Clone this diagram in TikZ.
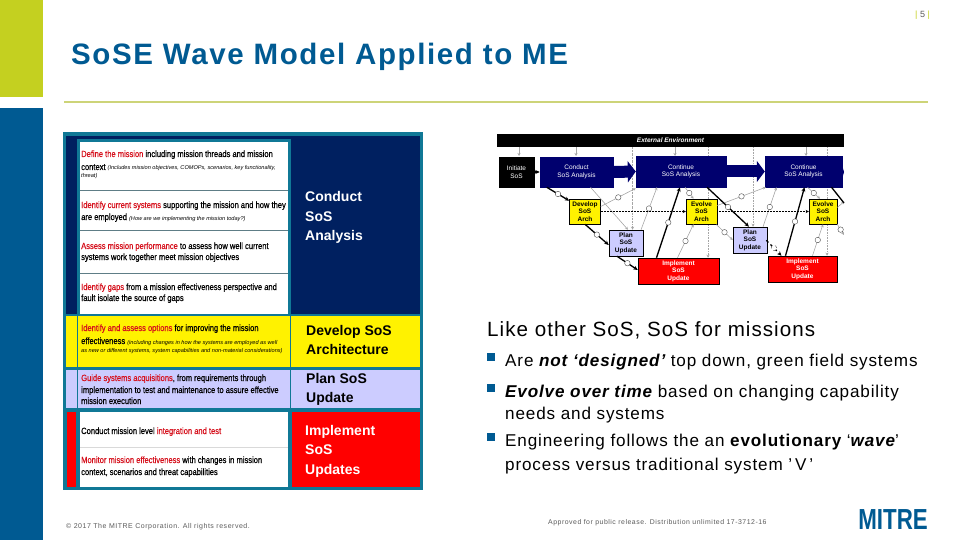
\documentclass[tikz,border=0pt]{standalone}
\usepackage{fontspec}
\setmainfont{Liberation Sans}
\newfontfamily\titlefont[LetterSpace=5.5]{Liberation Sans}
\newfontfamily\cellfont[FakeStretch=0.84,FakeBold=0.6]{Liberation Sans}
\newfontfamily\notefont{Liberation Sans}
\newfontfamily\bodyfont[LetterSpace=5]{Liberation Sans}
\newfontfamily\smallfont[LetterSpace=7.5]{Liberation Sans}
\newfontfamily\logofont[FakeStretch=0.77]{Liberation Sans}
\newcommand{\cellnote}[1]{{\notefont\itshape\fontsize{5.6}{6}\selectfont #1}}
\usetikzlibrary{arrows.meta,backgrounds}
\definecolor{limebar}{RGB}{196,208,32}
\definecolor{rulelime}{RGB}{205,212,120}
\definecolor{mitreblue}{RGB}{0,90,146}
\definecolor{tableteal}{RGB}{16,120,150}
\definecolor{navycell}{RGB}{0,32,96}
\definecolor{planblue}{RGB}{204,204,255}
\definecolor{missred}{RGB}{214,16,28}
\definecolor{waveNavy}{RGB}{0,0,110}
\definecolor{footgray}{RGB}{90,90,90}
\tikzset{
  celltext/.style={anchor=base west,inner sep=0pt,font=\cellfont\fontsize{9}{10}\selectfont},
  phasetext/.style={anchor=west,align=left,inner sep=0pt,font=\bfseries\fontsize{14}{19.5}\selectfont},
  bodytext/.style={anchor=base west,inner sep=0pt,font=\bodyfont\fontsize{17.1}{20}\selectfont},
  bulletbox/.style={fill=mitreblue,inner sep=0pt,minimum size=8pt},
  wavebox/.style={draw=black,line width=0.5pt,inner sep=0pt,align=center,font=\bfseries\fontsize{6.5}{7.5}\selectfont},
  navybox/.style={wavebox,fill=waveNavy,draw=waveNavy,text=white},
  navylabel/.style={text=white,inner sep=0pt,align=center,font=\fontsize{6.5}{7.5}\selectfont},
  yellowbox/.style={wavebox,fill=yellow,minimum width=31pt,minimum height=25pt},
  planbox/.style={wavebox,fill=planblue,minimum width=34pt,minimum height=26pt},
  redbox/.style={wavebox,fill=red,text=white,minimum height=26pt},
  mainarrow/.style={-{Stealth[length=4.5pt,width=4pt]},line width=1.3pt,black},
  sidearrow/.style={-{Stealth[length=3pt,width=3pt]},line width=0.6pt,gray!70},
  ringmark/.style={circle,draw=black!70,fill=white,line width=0.4pt,inner sep=0pt,minimum size=5.5pt,midway},
  fatarrow/.style={-{Triangle[length=8pt,width=21pt]},line width=12pt,waveNavy},
}
\begin{document}
\begin{tikzpicture}[x=1pt,y=-1pt]
\useasboundingbox (0,0) rectangle (960,540);
\fill[limebar] (0,0) rectangle (43,97);
\fill[mitreblue] (0,108) rectangle (43,540);
\draw[rulelime,line width=1.5pt] (64,102) -- (928,102);
\node[anchor=base west,inner sep=0pt,text=mitreblue,font=\titlefont\bfseries\fontsize{29.5}{31}\selectfont] (title) at (71,65) {SoSE Wave Model Applied to ME};
\node[inner sep=0pt,text=footgray,font=\fontsize{9}{10}\selectfont] (pagenum) at (922.5,15) {{\color{limebar}|} 5 {\color{limebar}|}};

% table
\fill[tableteal] (63,132) rectangle (423,490);
\fill[navycell] (66,136) rectangle (420,314);
\fill[tableteal] (77,139) rectangle (291,314);
\fill[white] (80,142) rectangle (288,314);
\fill[yellow] (66,316) rectangle (420,367);
\fill[planblue] (66,370) rectangle (420,408);
\fill[red] (67,412) rectangle (76,487);
\fill[white] (80,412) rectangle (288,487);
\fill[red] (292,412) rectangle (420,487);
\draw[tableteal,line width=0.6pt] (77,316) -- (77,408);
\draw[tableteal,line width=0.6pt] (290,316) -- (290,408);
\foreach \y in {190,230,273} {
  \draw[gray!70!tableteal,line width=0.6pt] (80,\y) -- (288,\y);
}
\draw[gray!30,line width=0.5pt] (80,447) -- (288,447);

\node[celltext] (defineA) at (81,157) {\textcolor{missred}{Define the mission} including mission threads and mission};
\node[celltext] (defineB) at (81,170) {context \cellnote{(Includes mission objectives, COMOPs, scenarios, key functionality,}};
\node[celltext] (defineC) at (81,178) {\cellnote{threat)}};
\node[celltext] (currentA) at (81,208) {\textcolor{missred}{Identify current systems} supporting the mission and how they};
\node[celltext] (currentB) at (81,220) {are employed \cellnote{(How are we implementing the mission today?)}};
\node[celltext] (assessA) at (81,249) {\textcolor{missred}{Assess mission performance} to assess how well current};
\node[celltext] (assessB) at (81,260) {systems work together meet mission objectives};
\node[celltext] (gapsA) at (81,290) {\textcolor{missred}{Identify gaps} from a mission effectiveness perspective and};
\node[celltext] (gapsB) at (81,301) {fault isolate the source of gaps};
\node[celltext] (optionsA) at (81,331) {\textcolor{missred}{Identify and assess options} for improving the mission};
\node[celltext] (optionsB) at (81,344) {effectiveness \cellnote{(including changes in how the systems are employed as well}};
\node[celltext] (optionsC) at (81,352) {\cellnote{as new or different systems, system capabilities and non-material considerations)}};
\node[celltext] (guideA) at (81,381) {\textcolor{missred}{Guide systems acquisitions}, from requirements through};
\node[celltext] (guideB) at (81,393) {implementation to test and maintenance to assure effective};
\node[celltext] (guideC) at (81,404) {mission execution};
\node[celltext] (integrate) at (81,434) {Conduct mission level \textcolor{missred}{integration and test}};
\node[celltext] (monitorA) at (81,463) {\textcolor{missred}{Monitor mission effectiveness} with changes in mission};
\node[celltext] (monitorB) at (81,475) {context, scenarios and threat capabilities};

\node[phasetext,text=white] (analysis) at (305,217.5) {Conduct\\SoS\\Analysis};
\node[phasetext] (develop) at (306,340) {Develop SoS\\Architecture};
\node[phasetext] (plan) at (306,389.5) {Plan SoS\\Update};
\node[phasetext,text=white] (implement) at (305,451) {Implement\\SoS\\Updates};

% wave
\node[fill=black,text=white,inner sep=0pt,minimum width=347pt,minimum height=13pt,font=\bfseries\itshape\fontsize{6.5}{7}\selectfont] (external) at (670.5,140.5) {External Environment};
\node[wavebox,fill=black,text=white,minimum width=35pt,minimum height=30pt,font=\fontsize{6.5}{7.5}\selectfont] (initiate) at (516.5,172) {Initiate\\SoS};
\node[navybox,minimum width=73pt,minimum height=30pt,font=\fontsize{6.5}{7.5}\selectfont] (conduct) at (576.5,172) {Conduct\\SoS Analysis};
\node[navybox,minimum width=90pt,minimum height=31pt] (continueA) at (681,171.5) {};
\node[navybox,minimum width=77pt,minimum height=31pt] (continueB) at (803.5,171.5) {};
\node[yellowbox] (archA) at (585,211.5) {Develop\\SoS\\Arch};
\node[yellowbox] (archB) at (701.5,211.5) {Evolve\\SoS\\Arch};
\node[yellowbox,minimum width=28pt] (archC) at (823,211.5) {Evolve\\SoS\\Arch};
\node[planbox] (planA) at (626,243) {Plan\\SoS\\Update};
\node[planbox] (planB) at (750,240) {Plan\\SoS\\Update};
\node[redbox,minimum width=81pt] (implA) at (678.5,271) {Implement\\SoS\\Update};
\node[redbox,minimum width=69pt] (implB) at (802.5,269) {Implement\\SoS\\Update};
\coordinate (rightA) at (844,203);
\coordinate (rightB) at (844,235);
\coordinate (rightC) at (844,172);

\draw[fatarrow] (conduct.east) -- (continueA.west);
\draw[fatarrow] (continueA.center) -- (continueB.west);
\draw[fatarrow,-{Triangle[length=3pt,width=21pt]}] ([xshift=-22pt]rightC) -- (rightC);
\node[navylabel] (continueTextA) at (continueA.center) {Continue\\SoS Analysis};
\node[navylabel] (continueTextB) at (continueB.center) {Continue\\SoS Analysis};

\begin{scope}[on background layer]
\foreach \x in {519,576,675,806} {
  \draw[sidearrow] (\x,147) -- (\x,156);
}
\draw[gray!70,densely dotted,line width=0.4pt] (632,147) -- (632,208);
\draw[sidearrow,densely dotted] (632.5,208) -- (planA.north -| 632.5,0);
\draw[sidearrow,densely dotted] (708,147) -- (implA.north -| 708,0);
\draw[sidearrow,densely dotted] (753,147) -- (planB.north -| 753,0);
\draw[sidearrow,densely dotted] (827,147) -- (implB.north -| 827,0);
\end{scope}

\draw[sidearrow] (archA.east) ++(0,-5) -- ([yshift=-1pt]continueA.south west) node[ringmark] {};
\draw[sidearrow] ([xshift=15pt]planA.north) -- ([xshift=-24pt]continueA.south) node[ringmark] {};
\draw[sidearrow] ([xshift=14pt]conduct.south) -- ([xshift=2pt]planA.north);
\draw[sidearrow] ([xshift=-1pt]implA.north) -- ([xshift=-8pt]archB.south) node[ringmark] {};
\draw[sidearrow] ([xshift=4pt]continueA.south) -- ([xshift=-8pt]archB.north) node[ringmark] {};
\draw[sidearrow] ([yshift=6pt]archB.east) -- ([xshift=1pt]continueB.south west) node[ringmark] {};
\draw[sidearrow] ([xshift=13pt]planB.north) -- ([xshift=-27pt]continueB.south) node[ringmark] {};
\draw[sidearrow] ([yshift=-7pt]archB.east) ++(-1,6) -- (planB.west) node[ringmark] {};
\draw[sidearrow] ([xshift=10pt]implB.north) -- (archC.south) node[ringmark] {};
\draw[sidearrow] ([xshift=4pt]continueB.south) -- ([xshift=-3pt]archC.north) node[ringmark] {};
\draw[sidearrow] (archC.south east) -- (rightB) node[ringmark] {};
\draw[sidearrow] ([yshift=4pt]archC.east) -- ++(7,-6);

\draw[-{Stealth[length=3pt,width=3pt]},densely dotted,line width=0.5pt] (archA.east) -- (archB.west);
\draw[-{Stealth[length=3pt,width=3pt]},densely dotted,line width=0.5pt] (archB.east) -- (archC.west);

\draw[mainarrow] (initiate.east) -- (conduct.west);
\draw[mainarrow] (conduct.south west) ++(7,0) -- ([yshift=-2pt]archA.north west) node[ringmark] {};
\draw[mainarrow] (archA.south) -- ([yshift=-2pt]planA.west) node[ringmark] {};
\draw[mainarrow] ([xshift=-9pt]planA.south) -- ([yshift=1pt]implA.west) node[ringmark] {};
\draw[mainarrow] ([xshift=-22pt]implA.north) -- ([xshift=-1pt]continueA.south) node[ringmark] {};
\draw[mainarrow] ([xshift=26pt]continueA.south) -- ([xshift=-1pt]planB.north) node[ringmark] {};
\draw[mainarrow,dashed] (planB.south east) ++(-1,-13) -- ([xshift=-21pt]implB.north) node[ringmark] {};
\draw[mainarrow] ([xshift=-17pt]implB.north) -- ([xshift=1pt]continueB.south) node[ringmark] {};
\draw[mainarrow,-] ([xshift=28pt]continueB.south) -- (rightA);

% right text
\node[anchor=base west,inner sep=0pt,font=\bodyfont\fontsize{20.6}{22}\selectfont] (lead) at (487,336) {Like other SoS, SoS for missions};
\node[bulletbox] (bulletA) at (491,357) {};
\node[bulletbox] (bulletB) at (491,388) {};
\node[bulletbox] (bulletC) at (491,437) {};
\node[bodytext] (lineA) at (505,366) {Are {\bfseries\itshape not ‘designed’} top down, green field systems};
\node[bodytext] (lineB) at (505,397) {{\bfseries\itshape Evolve over time} based on changing capability};
\node[bodytext] (lineC) at (505,419) {needs and systems};
\node[bodytext] (lineD) at (505,446) {Engineering follows the an {\bfseries evolutionary} ‘{\bfseries\itshape wave}’};
\node[bodytext] (lineE) at (505,470) {process versus traditional system ’\,V\,’};

\node[anchor=base west,inner sep=0pt,text=footgray,font=\smallfont\fontsize{6.9}{8}\selectfont] (approved) at (548,524) {Approved for public release. Distribution unlimited 17-3712-16};
\node[anchor=base west,inner sep=0pt,text=footgray,font=\smallfont\fontsize{7}{8}\selectfont] (copyright) at (66,528) {© 2017 The MITRE Corporation. All rights reserved.};
\node[anchor=base east,inner sep=0pt,text=mitreblue,font=\logofont\bfseries\fontsize{29}{30}\selectfont] (logo) at (928,529) {MITRE};
\end{tikzpicture}
\end{document}
